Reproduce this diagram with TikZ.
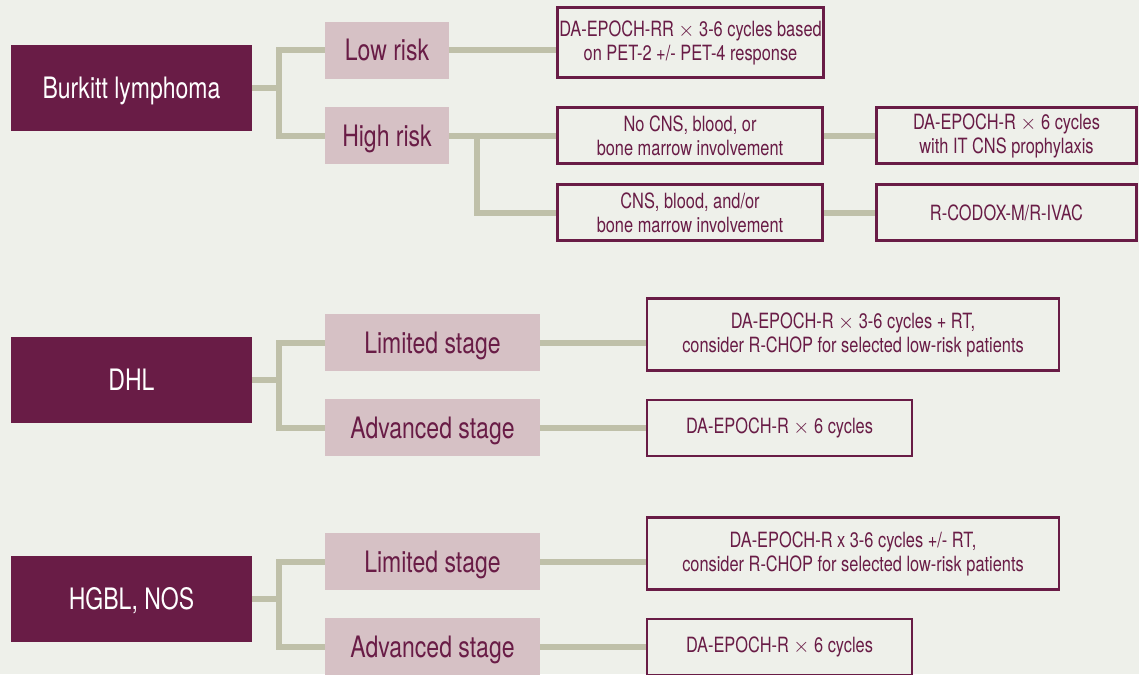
\documentclass[tikz,border=0pt]{standalone}
\usepackage{fontspec}
\setmainfont{TeX Gyre Heros}[FakeStretch=0.78]
\usetikzlibrary{positioning, calc}
\definecolor{plum}{HTML}{691C46}
\definecolor{blush}{HTML}{D6C1C5}
\definecolor{paper}{HTML}{EEF0EA}
\definecolor{stem}{HTML}{BFC0A9}
\newcommand{\cyc}{\ensuremath{\times}}
\tikzset
{%
group/.style={fill=plum, text=white, minimum width=241pt, minimum height=86pt, inner sep=0pt, text height=21pt, text depth=0pt, font=\fontsize{29.5}{31}\selectfont},
stage/.style={fill=blush, text=plum, minimum height=57pt, inner sep=0pt, text height=21pt, text depth=0pt, font=\fontsize{29.5}{31}\selectfont},
regimen/.style={draw=plum, line width=2.5pt, fill=paper, text=plum, align=center, inner sep=0pt, font=\fontsize{21}{24}\selectfont},
link/.style={draw=stem, line width=6pt}
}

\begin{document}
\begin{tikzpicture}[x=1pt, y=-1pt]
	\useasboundingbox[fill=paper] (0,0) rectangle (1139,674);

		% [FIRST GROUP]

		% Burkitt lymphoma
		\begin{scope}[shift={(0, 0)}]
			\node[group] (burkitt) at (131.5, 88) {Burkitt lymphoma};
			\node[stage, minimum width=124pt] (low) at (387, 50.5) {Low risk};
			\node[stage, minimum width=124pt] (high) at (387, 135.5) {High risk};
			\node[regimen, minimum width=266pt, minimum height=70pt] (rr) at (690.5, 42.5) {DA-EPOCH-RR \cyc{} 3-6 cycles based\\on PET-2 +/- PET-4 response};
			\node[regimen, minimum width=265pt, minimum height=56pt] (nocns) at (690, 135.5) {No CNS, blood, or\\bone marrow involvement};
			\node[regimen, minimum width=265pt, minimum height=56pt] (cns) at (690, 212.5) {CNS, blood, and/or\\bone marrow involvement};
			\node[regimen, minimum width=260pt, minimum height=56pt] (proph) at (1006.5, 135.5) {DA-EPOCH-R \cyc{} 6 cycles\\with IT CNS prophylaxis};
			\node[regimen, minimum width=260pt, minimum height=56pt] (codox) at (1006.5, 212.5) {R-CODOX-M/R-IVAC};
		\end{scope}

		% [SECOND GROUP]

		% DHL
		\begin{scope}[shift={(0, 292)}]
			\node[group] (dhl) at (131.5, 88) {DHL};
			\node[stage, minimum width=215pt] (dlim) at (432.5, 50.5) {Limited stage};
			\node[stage, minimum width=215pt] (dadv) at (432.5, 135.5) {Advanced stage};
			\node[regimen, minimum width=412pt, minimum height=72pt] (dlimrx) at (853, 42.5) {DA-EPOCH-R \cyc{} 3-6 cycles + RT,\\consider R-CHOP for selected low-risk patients};
			\node[regimen, minimum width=265pt, minimum height=56pt] (dadvrx) at (779.5, 136) {DA-EPOCH-R \cyc{} 6 cycles};
		\end{scope}

		% [THIRD GROUP]

		% HGBL, NOS
		\begin{scope}[shift={(0, 511)}]
			\node[group] (hgbl) at (131.5, 88) {HGBL, NOS};
			\node[stage, minimum width=215pt] (hlim) at (432.5, 50.5) {Limited stage};
			\node[stage, minimum width=215pt] (hadv) at (432.5, 135.5) {Advanced stage};
			\node[regimen, minimum width=412pt, minimum height=72pt] (hlimrx) at (853, 42.5) {DA-EPOCH-R x 3-6 cycles +/- RT,\\consider R-CHOP for selected low-risk patients};
			\node[regimen, minimum width=265pt, minimum height=56pt] (hadvrx) at (779.5, 136) {DA-EPOCH-R \cyc{} 6 cycles};
		\end{scope}

		% brackets
		\draw[link] (burkitt.east) -- ++(27, 0) coordinate (kb);
		\draw[link] (low.west) -| (kb) |- (high.west);
		\draw[link] (dhl.east) -- ++(27, 0) coordinate (kd);
		\draw[link] (dlim.west) -| (kd) |- (dadv.west);
		\draw[link] (hgbl.east) -- ++(27, 0) coordinate (kh);
		\draw[link] (hlim.west) -| (kh) |- (hadv.west);

		\draw[link] (low.east) -- (low.east -| rr.west);
		\draw[link] (high.east) -- (nocns.west);
		\path (high.east) ++(28, 0) coordinate (kr);
		\draw[link] (kr) |- (cns.west);
		\draw[link] (nocns.east) -- (proph.west);
		\draw[link] (cns.east) -- (codox.west);

		\draw[link] (dlim.east) -- (dlim.east -| dlimrx.west);
		\draw[link] (dadv.east) -- (dadv.east -| dadvrx.west);
		\draw[link] (hlim.east) -- (hlim.east -| hlimrx.west);
		\draw[link] (hadv.east) -- (hadv.east -| hadvrx.west);
\end{tikzpicture}
\end{document}
